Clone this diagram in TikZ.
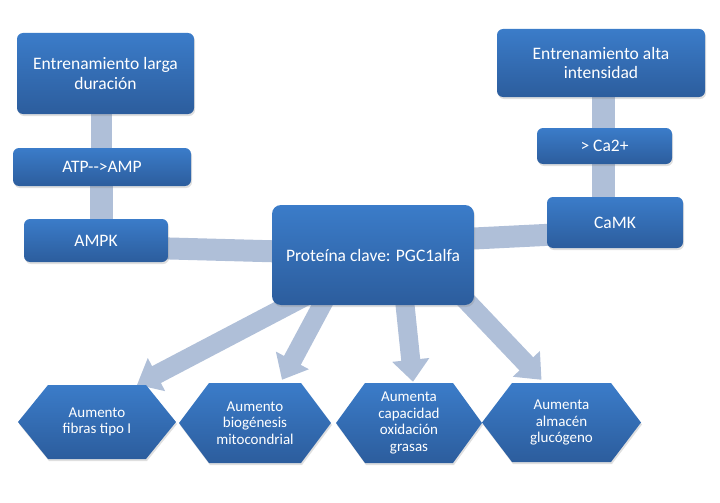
\documentclass[tikz,border=0pt]{standalone}
\usepackage{fontspec}
\setmainfont{Carlito}
\usetikzlibrary{arrows.meta,shadows,calc}
\pgfdeclarelayer{bg}
\pgfsetlayers{bg,main}
\definecolor{boxtop}{HTML}{3B7CC9}
\definecolor{boxbot}{HTML}{2C5D9D}
\definecolor{conncol}{HTML}{AFBFD8}
\tikzset{
  myshadow/.style={drop shadow={opacity=0.25, shadow xshift=1pt, shadow yshift=-2pt}},
  box/.style={rounded corners=6pt, top color=boxtop, bottom color=boxbot, draw=none,
    text=white, align=center, font=\fontsize{17.5}{19.5}\selectfont, inner sep=0pt, myshadow},
  link/.style={draw=conncol, line width=22pt},
  bigarrow/.style={draw=conncol, line width=19pt, -{Triangle[width=36pt,length=22pt,fill=conncol]}},
  hexfill/.style={top color=boxtop, bottom color=boxbot, myshadow},
  hextext/.style={text=white, align=center, font=\fontsize{15}{16.5}\selectfont, inner sep=0pt}
}
% #1 name, #2 cx, #3 cy, #4 half width, #5 half height, #6 inset, #7 text
\newcommand\myhex[7]{%
  \path[hexfill] (#2-#4,#3) -- (#2-#4+#6,#3-#5) -- (#2+#4-#6,#3-#5) -- (#2+#4,#3)
    -- (#2+#4-#6,#3+#5) -- (#2-#4+#6,#3+#5) -- cycle;
  \node[hextext, minimum height=2*#5pt] (#1) at (#2,#3) {#7};%
}
\begin{document}
\begin{tikzpicture}[x=1pt,y=-1pt]
\useasboundingbox (0,0) rectangle (720,503);
% boxes
\node[box, minimum width=177pt, minimum height=81pt] (b1) at (105.5,73.5) {Entrenamiento larga\\duración};
\node[box, minimum width=178pt, minimum height=38pt] (atp) at (102,167) {ATP-{}->AMP};
\node[box, minimum width=144pt, minimum height=43pt] (ampk) at (96,240.5) {AMPK};
\node[box, rounded corners=9pt, minimum width=202pt, minimum height=100pt] (c) at (373,255) {\raisebox{-3pt}{Proteína clave: PGC1alfa}};
\node[box, minimum width=208pt, minimum height=68pt] (b2) at (601,63) {Entrenamiento alta\\intensidad};
\node[box, minimum width=135pt, minimum height=36pt] (ca) at (604.5,146) {> Ca2+};
\node[box, minimum width=136pt, minimum height=51pt] (camk) at (615,222.5) {CaMK};
% hexagons
\myhex{h1}{97}{422}{79}{37}{30}{Aumento\\fibras tipo I}
\myhex{h2}{255}{423}{76}{40}{30}{Aumento\\biogénesis\\mitocondrial}
\myhex{h3}{409}{423}{73}{40}{29}{Aumenta\\capacidad\\oxidación\\grasas}
\myhex{h4}{561.5}{422.5}{79.5}{39.5}{30}{Aumenta\\almacén\\glucógeno}
% connectors
\begin{pgfonlayer}{bg}
\draw[link, line width=21pt] ($(b1.center)+(-4.5,0)$) -- ($(atp.center)+(-1,0)$);
\draw[link, line width=23pt] ($(atp.center)+(-1,0)$) -- ($(ampk.center)+(5,0)$);
\draw[link] ($(ampk.center)+(0,6)$) -- ($(c.center)+(0,-1)$);
\draw[link, line width=23pt] ($(b2.center)+(2,0)$) -- ($(ca.center)+(-1.5,0)$);
\draw[link, line width=23pt] ($(ca.center)+(-1.5,0)$) -- ($(camk.center)+(-12,0)$);
\draw[link] ($(camk.center)+(0,9)$) -- ($(c.center)+(0,-11.5)$);
\draw[bigarrow] ($(c.center)+(0,6)$) -- ($(h1.north)+(40,0)$);
\draw[bigarrow] ($(c.center)+(-44,37)$) -- ($(h2.north)+(27,-3)$);
\draw[bigarrow] ($(c.center)+(31,40)$) -- ($(h3.north)+(4,-1)$);
\draw[bigarrow] ($(c.center)+(85,37)$) -- ($(h4.north)+(-20,-3)$);
\end{pgfonlayer}
\end{tikzpicture}
\end{document}
